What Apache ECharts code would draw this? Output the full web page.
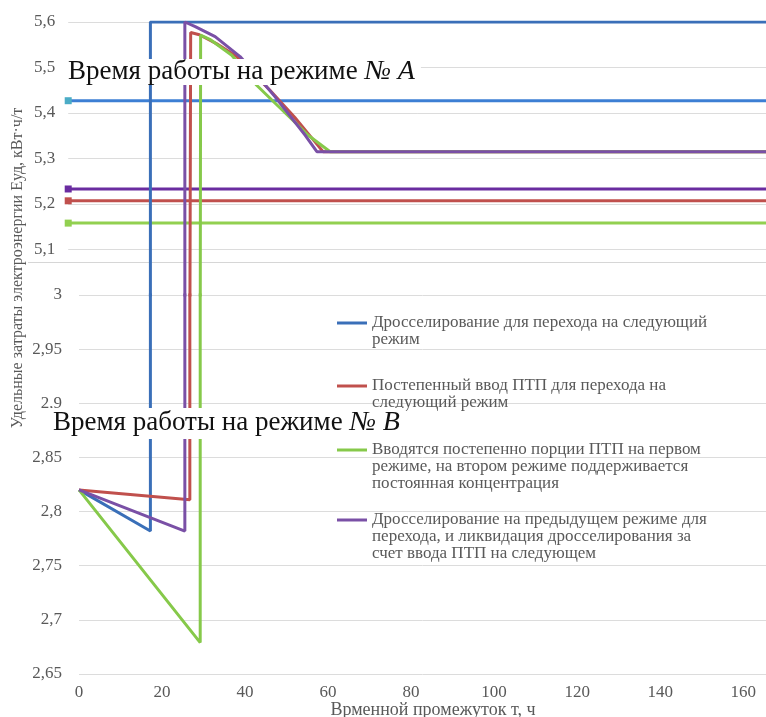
<!DOCTYPE html>
<html><head><meta charset="utf-8">
<script src="https://cdn.jsdelivr.net/npm/echarts@6/dist/echarts.min.js"></script>
<style>html,body{margin:0;padding:0;background:#fff}#c{width:766px;height:717px}</style>
</head><body><div id="c"></div>
<script>
// Legend names (series)
const seriesNames = [
  'Дросселирование для перехода на следующий\nрежим',
  'Постепенный ввод ПТП для перехода на\nследующий режим',
  'Вводятся постепенно порции ПТП на первом\nрежиме, на втором режиме поддерживается\nпостоянная концентрация',
  'Дросселирование на предыдущем режиме для\nперехода, и ликвидация дросселирования за\nсчет ввода ПТП на следующем'
];
const seriesColors = ['#3a6fb8', '#c0504d', '#86c94a', '#7a50a6'];

// Lower panel (previous regime), [time h, E kWh/t]
const blueLow   = [[0, 2.82], [17.2, 2.782], [17.2, 3.1]];
const redLow    = [[0, 2.82], [26.7, 2.811], [26.7, 3.1]];
const greenLow  = [[0, 2.82], [29.2, 2.679], [29.2, 3.1]];
const purpleLow = [[0, 2.82], [25.5, 2.782], [25.5, 3.1]];

// Upper panel (next regime)
const blueHigh   = [[17.2, 4.9], [17.2, 5.6], [170, 5.6]];
const redHigh    = [[26.7, 4.9], [26.9, 5.577], [29, 5.572], [33, 5.553], [38, 5.524], [46, 5.45], [52, 5.39], [56.9, 5.336], [58.8, 5.315], [170, 5.315]];
const greenHigh  = [[29.2, 4.9], [29.3, 5.571], [31.5, 5.562], [36.8, 5.527], [42.8, 5.461], [47.2, 5.422], [52, 5.38], [55.2, 5.351], [60.5, 5.315], [170, 5.315]];
const purpleHigh = [[25.5, 4.9], [25.5, 5.6], [28, 5.59], [32.8, 5.568], [38.8, 5.524], [44.8, 5.462], [47.2, 5.436], [54.5, 5.351], [57.3, 5.315], [170, 5.315]];

// Reference levels in the upper panel
const levelValues = [5.427, 5.207, 5.158, 5.233];
const levelColors = ['#3d7fd4', '#c0504d', '#92d050', '#6a2ca0'];
const levelMarkerColors = ['#4bacc6', '#c0504d', '#92d050', '#6a2ca0'];
const levelStart = -2.6, levelEnd = 170;

// Axes
const xMin = 0, xMax = 165.5, xStep = 20;
const yTopMin = 5.0, yTopMax = 5.6, yTopStep = 0.1;
const yLowMin = 2.65, yLowMax = 3.0, yLowStep = 0.05;

const serif = '"Liberation Serif", "DejaVu Serif", serif';
const fmt = v => { const r = +v.toFixed(2); return String(r).replace('.', ','); };

const lowData = [blueLow, redLow, greenLow, purpleLow];
const highData = [blueHigh, redHigh, greenHigh, purpleHigh];

const series = [];
levelValues.forEach((v, i) => {
  series.push({
    name: 'level' + i, type: 'line', xAxisIndex: 0, yAxisIndex: 0,
    data: [
      { value: [levelStart, v], symbol: 'rect', symbolSize: 7, itemStyle: { color: levelMarkerColors[i] } },
      { value: [levelEnd, v], symbol: 'none' }
    ],
    lineStyle: { color: levelColors[i], width: 3 }, itemStyle: { color: levelMarkerColors[i] },
    showSymbol: true, silent: true, z: 2
  });
});
[0, 1, 2, 3].forEach(i => {
  series.push({
    name: seriesNames[i], type: 'line', xAxisIndex: 0, yAxisIndex: 0, data: highData[i],
    symbol: 'none', color: seriesColors[i], lineStyle: { width: 3, color: seriesColors[i] }, z: 3
  });
  series.push({
    name: seriesNames[i], type: 'line', xAxisIndex: 1, yAxisIndex: 1, data: lowData[i],
    symbol: 'none', color: seriesColors[i], lineStyle: { width: 3, color: seriesColors[i] }, z: 3
  });
});

const legendFirstLineY = [323, 386, 450, 520];
const LH = 17;
const legends = seriesNames.map((n, i) => {
  const lines = n.split('\n').length;
  return {
    data: [n], left: 337, top: legendFirstLineY[i] - (lines - 1) * LH - LH / 2,
    orient: 'vertical', padding: 0, icon: 'rect', itemWidth: 30, itemHeight: 3,
    formatter: name => '\n'.repeat(name.split('\n').length - 1) + name,
    textStyle: { fontFamily: serif, fontSize: 17, color: '#595959', lineHeight: LH }
  };
});

const chart = echarts.init(document.getElementById('c'));
chart.setOption({
  animation: false,
  backgroundColor: '#fff',
  grid: [
    { left: 79 + levelStart * 4.15, right: 0, top: 22, height: 273 },
    { left: 79, right: 0, top: 295, height: 379 }
  ],
  xAxis: [
    { type: 'value', gridIndex: 0, min: levelStart, max: xMax, show: false, splitLine: { show: false } },
    { type: 'value', gridIndex: 1, min: xMin, max: xMax, interval: xStep,
      axisLine: { show: false }, axisTick: { show: false }, splitLine: { show: false },
      axisLabel: { showMaxLabel: false, margin: 10, fontFamily: serif, fontSize: 17, color: '#595959' } }
  ],
  yAxis: [
    { type: 'value', gridIndex: 0, min: yTopMin, max: yTopMax, interval: yTopStep,
      axisLine: { show: false }, axisTick: { show: false },
      splitLine: { showMinLine: false, lineStyle: { color: '#dcdcdc', width: 1 } },
      axisLabel: { margin: 13, fontFamily: serif, fontSize: 17, color: '#595959',
        formatter: v => (Math.abs(v - yTopMin) < 1e-6 ? '' : fmt(v)) } },
    { type: 'value', gridIndex: 1, min: yLowMin, max: yLowMax, interval: yLowStep,
      axisLine: { show: false }, axisTick: { show: false },
      splitLine: { lineStyle: { color: '#dcdcdc', width: 1 } },
      axisLabel: { margin: 17, fontFamily: serif, fontSize: 17, color: '#595959', formatter: v => fmt(v) } }
  ],
  legend: legends,
  series: series,
  graphic: [
    { type: 'line', shape: { x1: 28, y1: 262.5, x2: 766, y2: 262.5 }, style: { stroke: '#d6d6d6', lineWidth: 1 }, z: 1 },
    { type: 'text', x: 62, y: 59, z: 100,
      style: { text: 'Время работы на режиме {i|№ A}', font: '27px ' + serif, fill: '#111',
        backgroundColor: '#fff', padding: [0, 6, 0, 6], lineHeight: 26,
        rich: { i: { fontStyle: 'italic', fontSize: 28, fontFamily: serif, fill: '#111', lineHeight: 26 } } } },
    { type: 'text', x: 47, y: 408, z: 100,
      style: { text: 'Время работы на режиме {i|№ B}', font: '27px ' + serif, fill: '#111',
        backgroundColor: '#fff', padding: [2, 6, 3, 6], lineHeight: 26,
        rich: { i: { fontStyle: 'italic', fontSize: 28, fontFamily: serif, fill: '#111', lineHeight: 26 } } } },
    { type: 'text', x: 18, y: 268, rotation: Math.PI / 2, z: 100,
      style: { text: 'Удельные затраты электроэнергии Еуд, кВт·ч/т', font: '16px ' + serif, fill: '#595959',
        align: 'center', verticalAlign: 'middle' } },
    { type: 'text', x: 433, y: 710, z: 100,
      style: { text: 'Врменной промежуток т, ч', font: '18px ' + serif, fill: '#595959',
        align: 'center', verticalAlign: 'middle' } }
  ]
});
</script>
</body></html>
